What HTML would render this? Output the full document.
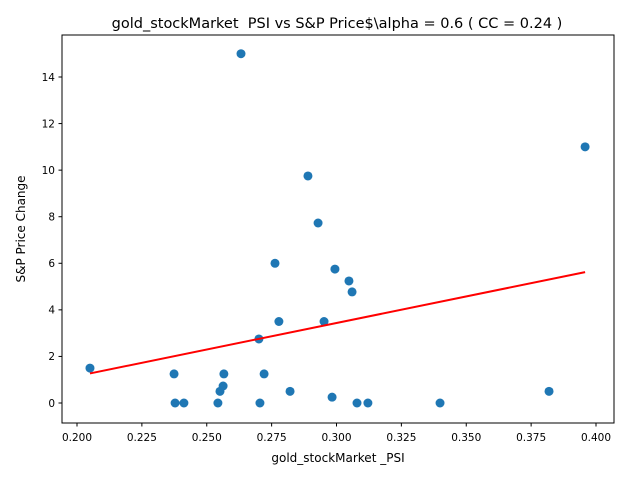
<!DOCTYPE html>
<html><head><meta charset="utf-8"><style>
body{margin:0;background:#fff;}
svg text{font-family:"DejaVu Sans","Liberation Sans",sans-serif;fill:#000;}
</style></head><body>
<svg id="chart" width="640" height="480" xmlns="http://www.w3.org/2000/svg">
<rect width="640" height="480" fill="#fff"/>
<text x="337" y="28" font-size="14.5" text-anchor="middle">gold_stockMarket&#160; PSI vs S&amp;P Price$\alpha = 0.6 ( CC = 0.24 )</text>
<g id="plot"></g>
<rect x="62" y="35" width="552" height="388" fill="none" stroke="#000" stroke-width="1"/>
<text x="338" y="462" font-size="12" text-anchor="middle">gold_stockMarket _PSI</text>
<text x="25" y="229" font-size="12" text-anchor="middle" transform="rotate(-90 25 229)">S&amp;P Price Change</text>
</svg>
<script>
const xVals=[0.205,0.2374,0.2378,0.2412,0.2543,0.2551,0.2563,0.2566,0.2632,0.2701,0.2705,0.2721,0.2763,0.2778,0.2821,0.289,0.2929,0.2952,0.2983,0.2994,0.3048,0.306,0.3079,0.3121,0.3399,0.3819,0.3958];
const yVals=[1.5,1.25,0,0,0,0.5,0.73,1.25,15,2.75,0,1.25,6.0,3.5,0.5,9.75,7.73,3.5,0.25,5.75,5.24,4.77,0,0,0,0.5,11];
const xTicks=[0.200,0.225,0.250,0.275,0.300,0.325,0.350,0.375,0.400];
const yTicks=[0,2,4,6,8,10,12,14];
const fitLine=[1.27,5.62];
const NS="http://www.w3.org/2000/svg";
const g=document.getElementById('plot');
function sx(v){return 77+(v-0.2)*2595;}
function sy(v){return 403-v*23.286;}
function mk(t,a){const e=document.createElementNS(NS,t);for(const k in a)e.setAttribute(k,a[k]);g.appendChild(e);return e;}
xTicks.forEach(t=>{
 const l=mk('line',{x1:sx(t),x2:sx(t),y1:423,y2:426.5,stroke:'#000'});
 
 
 const tx=mk('text',{x:sx(t),y:441,'font-size':10.5,'text-anchor':'middle'});
 tx.textContent=t.toFixed(3);
 
 
});
yTicks.forEach(t=>{
 const l=mk('line',{x1:58.5,x2:62,y1:sy(t),y2:sy(t),stroke:'#000'});
 
 
 const tx=mk('text',{x:55,y:sy(t)+3.8,'font-size':10.5,'text-anchor':'end'});
 tx.textContent=t;
 
 
});
xVals.forEach((x,i)=>{
 const c=mk('circle',{cx:sx(x),cy:sy(yVals[i]),r:4.5,fill:'#1f77b4'});
 
 
});
const xmin=Math.min(...xVals),xmax=Math.max(...xVals);
const fl=mk('line',{x1:sx(xmin),y1:sy(fitLine[0]),x2:sx(xmax),y2:sy(fitLine[1]),stroke:'#ff0000','stroke-width':2});


</script>
</body></html>
